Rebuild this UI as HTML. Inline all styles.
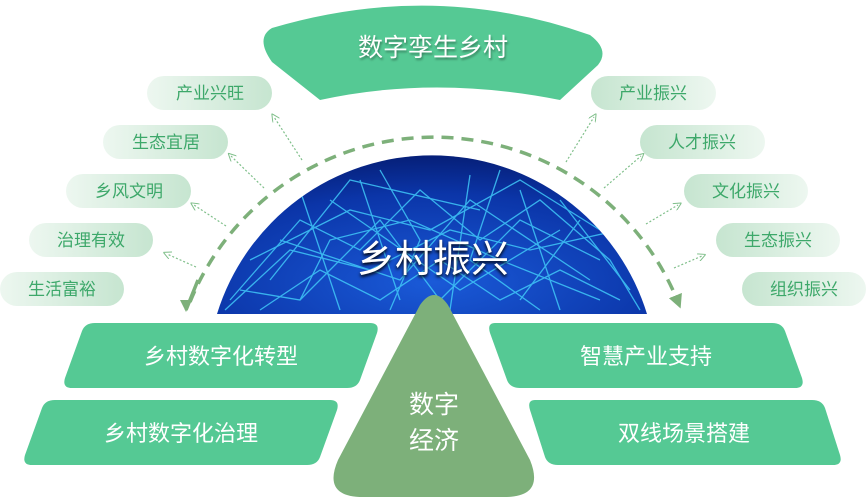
<!DOCTYPE html>
<html><head><meta charset="utf-8"><style>
html,body{margin:0;padding:0;background:#fff;}
svg{display:block;font-family:"Liberation Sans","Noto Sans CJK SC",sans-serif;}
</style></head><body>
<svg width="867" height="500" viewBox="0 0 867 500" xmlns="http://www.w3.org/2000/svg">
<defs>
<linearGradient id="gl" x1="0" x2="1" y1="0" y2="0"><stop offset="0" stop-color="#edf7f0"/><stop offset="1" stop-color="#c6e5d0"/></linearGradient>
<linearGradient id="gr" x1="0" x2="1" y1="0" y2="0"><stop offset="0" stop-color="#c6e5d0"/><stop offset="1" stop-color="#edf7f0"/></linearGradient>
<radialGradient id="globe" cx="0.5" cy="0.8" r="0.8"><stop offset="0" stop-color="#1a5ad8"/><stop offset="0.7" stop-color="#0b35a8"/><stop offset="1" stop-color="#061f78"/></radialGradient>
<clipPath id="gc"><path d="M217 314 A225 225 0 0 1 647 314 Z"/></clipPath>
<marker id="ah" markerWidth="8" markerHeight="8" refX="4" refY="4" orient="auto" markerUnits="userSpaceOnUse"><path d="M0 0 L8 4 L0 8" fill="none" stroke="#7fbf8a" stroke-width="1"/></marker>
<marker id="big" markerWidth="14" markerHeight="14" refX="7" refY="7" orient="auto" markerUnits="userSpaceOnUse"><path d="M0 0 L14 7 L0 14 Z" fill="#7db07a"/></marker>
</defs>

<path d="M217 314 A225 225 0 0 1 647 314 Z" fill="url(#globe)"/>
<g clip-path="url(#gc)" stroke="#40c8f8" stroke-width="1.3" fill="none" opacity="0.85">
<path d="M230 300 L300 220 L360 250 L420 190 L480 240 L540 200 L610 260 L640 310"/>
<path d="M260 310 L320 270 L380 300 L440 260 L500 300 L560 270 L620 300"/>
<path d="M300 190 L340 310 M360 180 L400 300 M470 175 L450 310 M520 190 L560 310 M580 220 L520 300"/>
<path d="M250 260 L350 210 L430 230 L520 180 L600 230"/>
<path d="M280 240 L400 280 L470 200 L590 280 M330 200 L460 290 L560 230"/>
<path d="M240 290 L300 300 L330 240 L410 220 L500 260 L600 300"/>
<path d="M380 170 L420 240 L390 310 M500 170 L470 260 L540 310 M560 200 L630 290 M270 280 L350 180 L480 210"/>
<path d="M225 310 L290 250 L370 270 L450 230 L530 250 L620 230 M300 300 L380 220 L440 300 L520 220 L600 260"/>
</g>
<text x="433" y="272" text-anchor="middle" font-size="38" fill="#fff" style="text-shadow:0 2px 3px #000">乡村振兴</text>

<path d="M272 28 Q434 -20 590 35 Q610 50 598 65 L560 100 Q434 75 320 100 L272 62 Q255 38 272 28 Z" fill="#55c994"/>
<text x="433" y="56" text-anchor="middle" font-size="25" fill="#fff" style="text-shadow:1px 2px 2px rgba(0,0,0,.35)">数字孪生乡村</text>

<path d="M190 302 A263 263 0 0 1 678 302" fill="none" stroke="#7db07a" stroke-width="3.5" stroke-dasharray="12 8" marker-end="url(#big)"/>
<path d="M198 280 L186 310" stroke="#7db07a" stroke-width="3.5"/>
<path d="M186 312 l-6 -12 l12 0 Z" fill="#7db07a"/>

<g stroke="#7fbf8a" stroke-width="1.2" stroke-dasharray="2 2" fill="none" marker-end="url(#ah)">
<path d="M302 160 L274 117"/>
<path d="M264 188 L231 156"/>
<path d="M226 226 L194 205"/>
<path d="M196 267 L167 254"/>
<path d="M566 162 L594 117"/>
<path d="M604 188 L641 156"/>
<path d="M646 224 L678 205"/>
<path d="M674 268 L702 256"/>
</g>

<g font-size="17" fill="#3da86a" text-anchor="middle">
<rect x="147" y="76" width="125" height="34" rx="17" fill="url(#gl)"/><text x="210" y="99">产业兴旺</text>
<rect x="103" y="125" width="125" height="34" rx="17" fill="url(#gl)"/><text x="166" y="148">生态宜居</text>
<rect x="66" y="174" width="125" height="34" rx="17" fill="url(#gl)"/><text x="129" y="197">乡风文明</text>
<rect x="29" y="223" width="124" height="34" rx="17" fill="url(#gl)"/><text x="91" y="246">治理有效</text>
<rect x="0" y="272" width="124" height="34" rx="17" fill="url(#gl)"/><text x="62" y="295">生活富裕</text>
<rect x="591" y="76" width="125" height="34" rx="17" fill="url(#gr)"/><text x="653" y="99">产业振兴</text>
<rect x="640" y="125" width="125" height="34" rx="17" fill="url(#gr)"/><text x="702" y="148">人才振兴</text>
<rect x="684" y="174" width="124" height="34" rx="17" fill="url(#gr)"/><text x="746" y="197">文化振兴</text>
<rect x="716" y="223" width="124" height="34" rx="17" fill="url(#gr)"/><text x="778" y="246">生态振兴</text>
<rect x="742" y="272" width="124" height="34" rx="17" fill="url(#gr)"/><text x="804" y="295">组织振兴</text>
</g>

<g fill="#55c994">
<path d="M95 323 L370 323 Q380 323 377 333 L360 380 Q357 388 347 388 L72 388 Q62 388 65 378 L82 331 Q85 323 95 323 Z"/>
<path d="M55 400 L330 400 Q340 400 337 410 L320 457 Q317 465 307 465 L32 465 Q22 465 25 455 L42 408 Q45 400 55 400 Z"/>
<path d="M495 323 L772 323 Q782 323 785 331 L802 378 Q805 388 795 388 L520 388 Q510 388 507 380 L490 333 Q487 323 495 323 Z"/>
<path d="M535 400 L812 400 Q822 400 825 408 L840 455 Q843 465 833 465 L558 465 Q548 465 545 457 L530 410 Q527 400 535 400 Z"/>
</g>
<g font-size="22" fill="#fff" text-anchor="middle">
<text x="221" y="364">乡村数字化转型</text>
<text x="181" y="441">乡村数字化治理</text>
<text x="646" y="364">智慧产业支持</text>
<text x="684" y="441">双线场景搭建</text>
</g>

<path d="M420 305 Q434 285 448 305 L530 460 Q545 497 505 497 L363 497 Q322 497 338 460 Z" fill="#7db07a"/>
<text x="434" y="413" text-anchor="middle" font-size="25" fill="#fff">数字</text>
<text x="434" y="449" text-anchor="middle" font-size="25" fill="#fff">经济</text>
</svg>
</body></html>
